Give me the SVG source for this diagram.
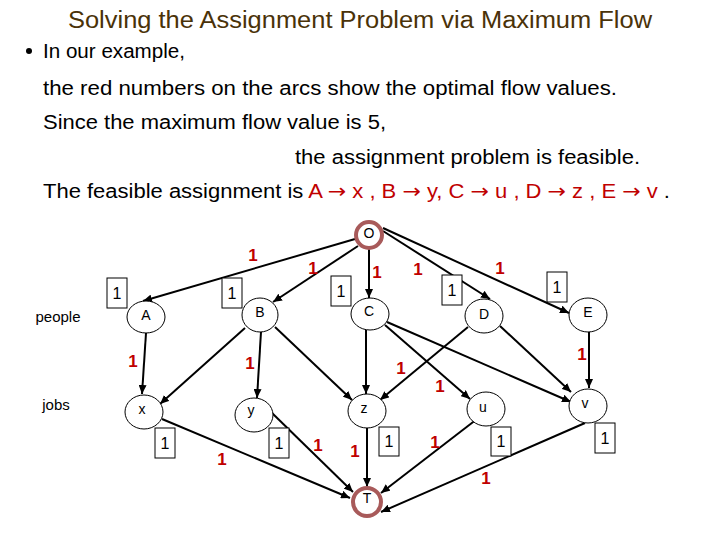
<svg xmlns="http://www.w3.org/2000/svg" width="720" height="540" viewBox="0 0 720 540">
<style>
.title{font-family:"Liberation Sans",Arial,sans-serif;font-size:23px;fill:#4a3208}
.body{font-family:"Liberation Sans",Arial,sans-serif;font-size:20px;fill:#000}
.red{fill:#c00000}
.arr{font-family:"DejaVu Sans",sans-serif}
.node ellipse{fill:#fff;stroke:#000;stroke-width:1}
.ring{fill:#fff;stroke:#a85a5a;stroke-width:4}
.lbl{font-family:"Liberation Sans",Arial,sans-serif;font-size:14px;fill:#000;text-anchor:middle}
.side{font-family:"Liberation Sans",Arial,sans-serif;font-size:15px;fill:#000;text-anchor:middle}
.edges line{stroke:#000;stroke-width:2;marker-end:url(#ah)}
.flow{font-family:"Liberation Sans",Arial,sans-serif;font-size:17px;font-weight:bold;fill:#c00000;text-anchor:middle}
.cap rect{fill:#fff;stroke:#000;stroke-width:1}
.cap text{font-family:"Liberation Sans",Arial,sans-serif;font-size:16px;fill:#000;text-anchor:middle}
</style>
<defs>
<marker id="ah" markerUnits="userSpaceOnUse" markerWidth="9" markerHeight="8" refX="9" refY="4" orient="auto">
<path d="M0,0 L9,4 L0,8 z" fill="#000"/>
</marker>
</defs>
<rect width="720" height="540" fill="#fff"/>
<text class="title" x="68" y="28" textLength="584" lengthAdjust="spacingAndGlyphs">Solving the Assignment Problem via Maximum Flow</text>
<circle cx="29" cy="51" r="3" fill="#000"/>
<text class="body" x="43" y="58" textLength="142" lengthAdjust="spacingAndGlyphs">In our example,</text>
<text class="body" x="43" y="95" textLength="574" lengthAdjust="spacingAndGlyphs">the red numbers on the arcs show the optimal flow values.</text>
<text class="body" x="43" y="129" textLength="343" lengthAdjust="spacingAndGlyphs">Since the maximum flow value is 5,</text>
<text class="body" x="295" y="164" textLength="345" lengthAdjust="spacingAndGlyphs">the assignment problem is feasible.</text>
<text class="body" x="43" y="198" textLength="627" lengthAdjust="spacingAndGlyphs">The feasible assignment is <tspan class="red">A <tspan class="arr">→</tspan> x , B <tspan class="arr">→</tspan> y, C <tspan class="arr">→</tspan> u , D <tspan class="arr">→</tspan> z , E <tspan class="arr">→</tspan> v</tspan> .</text>

<text class="side" x="58" y="322">people</text>
<text class="side" x="56" y="410">jobs</text>

<g class="edges">
<line x1="355" y1="239" x2="143" y2="301"/>
<line x1="358" y1="246" x2="273" y2="302"/>
<line x1="369" y1="249" x2="369" y2="298"/>
<line x1="383" y1="231" x2="490" y2="299"/>
<line x1="383" y1="228" x2="569" y2="313"/>
<line x1="146" y1="333" x2="142" y2="394"/>
<line x1="245" y1="328" x2="160" y2="404"/>
<line x1="261" y1="332" x2="257" y2="398"/>
<line x1="275" y1="327" x2="352" y2="400"/>
<line x1="366" y1="330" x2="366" y2="394"/>
<line x1="385" y1="325" x2="470" y2="399"/>
<line x1="387" y1="322" x2="571" y2="402"/>
<line x1="468" y1="327" x2="380" y2="400"/>
<line x1="500" y1="326" x2="571" y2="392"/>
<line x1="589" y1="332" x2="589" y2="388"/>
<line x1="162" y1="419" x2="350" y2="498"/>
<line x1="272" y1="413" x2="353" y2="492"/>
<line x1="367" y1="428" x2="367" y2="487"/>
<line x1="477" y1="419" x2="381" y2="493"/>
<line x1="585" y1="423" x2="381" y2="512"/>
</g>

<g id="O"><circle class="ring" cx="369" cy="235" r="13"/><text class="lbl" x="369" y="238">O</text></g>
<g id="T"><circle class="ring" cx="367" cy="502" r="14"/><text class="lbl" x="367" y="503">T</text></g>
<g id="A" class="node"><ellipse cx="146" cy="317" rx="19" ry="16"/><text class="lbl" x="146" y="320">A</text></g>
<g id="B" class="node"><ellipse cx="260" cy="315" rx="18" ry="17"/><text class="lbl" x="260" y="317">B</text></g>
<g id="C" class="node"><ellipse cx="370" cy="314" rx="19" ry="16"/><text class="lbl" x="369" y="316">C</text></g>
<g id="D" class="node"><ellipse cx="484" cy="316" rx="19" ry="17"/><text class="lbl" x="484" y="319">D</text></g>
<g id="E" class="node"><ellipse cx="588" cy="315" rx="19" ry="17"/><text class="lbl" x="588" y="317">E</text></g>
<g id="x" class="node"><ellipse cx="144" cy="412" rx="19" ry="17"/><text class="lbl" x="142" y="414">x</text></g>
<g id="y" class="node"><ellipse cx="254" cy="415" rx="19" ry="17"/><text class="lbl" x="251" y="415">y</text></g>
<g id="z" class="node"><ellipse cx="367" cy="411" rx="19" ry="17"/><text class="lbl" x="364" y="413">z</text></g>
<g id="u" class="node"><ellipse cx="486" cy="409" rx="19" ry="17"/><text class="lbl" x="483" y="412">u</text></g>
<g id="v" class="node"><ellipse cx="588" cy="406" rx="19" ry="17"/><text class="lbl" x="585" y="408">v</text></g>

<g class="cap">
<rect x="107" y="278" width="20" height="30"/><text x="117" y="299">1</text>
<rect x="222" y="278" width="20" height="30"/><text x="232" y="299">1</text>
<rect x="331" y="276" width="20" height="30"/><text x="341" y="297">1</text>
<rect x="442" y="275" width="20" height="30"/><text x="452" y="296">1</text>
<rect x="547" y="272" width="20" height="30"/><text x="557" y="293">1</text>
<rect x="155" y="428" width="20" height="30"/><text x="165" y="449">1</text>
<rect x="269" y="428" width="20" height="30"/><text x="279" y="449">1</text>
<rect x="379" y="427" width="20" height="29"/><text x="389" y="447">1</text>
<rect x="491" y="427" width="20" height="29"/><text x="501" y="447">1</text>
<rect x="595" y="423" width="20" height="30"/><text x="605" y="444">1</text>
</g>

<g id="flows">
<text class="flow" x="253" y="261">1</text>
<text class="flow" x="313" y="274">1</text>
<text class="flow" x="377" y="278">1</text>
<text class="flow" x="418" y="275">1</text>
<text class="flow" x="500" y="274">1</text>
<text class="flow" x="133" y="367">1</text>
<text class="flow" x="250" y="369">1</text>
<text class="flow" x="401" y="374">1</text>
<text class="flow" x="440" y="392">1</text>
<text class="flow" x="582" y="360">1</text>
<text class="flow" x="222" y="465">1</text>
<text class="flow" x="318" y="451">1</text>
<text class="flow" x="355" y="457">1</text>
<text class="flow" x="435" y="448">1</text>
<text class="flow" x="486" y="484">1</text>
</g>
</svg>
